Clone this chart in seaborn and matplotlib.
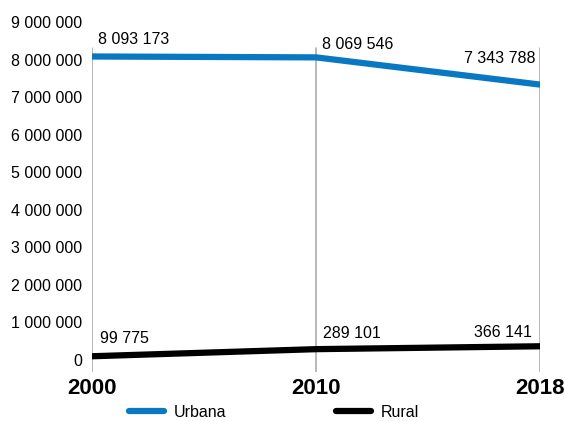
import matplotlib
matplotlib.use("Agg")
import matplotlib.pyplot as plt
from matplotlib.lines import Line2D
import seaborn as sns
import pandas as pd

# dados
anos = ["2000", "2010", "2018"]
urbana = [8093173, 8069546, 7343788]
rural = [99775, 289101, 366141]
series = ["Urbana", "Rural"]
yticks = [0, 1000000, 2000000, 3000000, 4000000, 5000000, 6000000, 7000000, 8000000, 9000000]

sns.set_theme(style="white")
plt.rcParams["font.family"] = ["Liberation Sans", "DejaVu Sans"]
plt.rcParams["text.color"] = "black"
plt.rcParams["xtick.color"] = "black"
plt.rcParams["ytick.color"] = "black"

AZUL = "#0878c2"
PRETO = "#000000"


def fmt(v):
    return f"{v:,}".replace(",", " ")


df = pd.DataFrame({
    "ano": anos * 2,
    "valor": urbana + rural,
    "serie": [series[0]] * 3 + [series[1]] * 3,
})

fig = plt.figure(figsize=(5.65, 4.21), dpi=100)
ax = fig.add_axes([0.163, 0.1164, 0.793, 0.8302])

# linhas verticais
for i in range(len(anos)):
    ax.axvline(i, ymin=0, ymax=0.927, color="#a6a6a6", lw=1.1, zorder=1)

sns.lineplot(data=df, x="ano", y="valor", hue="serie", sort=False,
             palette={"Urbana": AZUL, "Rural": PRETO},
             linewidth=4.5, ax=ax, legend=False, zorder=3)

ax.set_xlim(0, 2)
ax.set_ylim(-320000, 9000000)
ax.set_yticks(yticks)
ax.set_yticklabels([fmt(v) for v in yticks], fontsize=11.5)
ax.set_xticks(range(len(anos)))
ax.set_xticklabels(anos, fontsize=16, fontweight="bold")
ax.tick_params(axis="y", length=0, pad=7)
ax.tick_params(axis="x", length=0, pad=4)
ax.set_xlabel("")
ax.set_ylabel("")
for s in ax.spines.values():
    s.set_visible(False)

# rótulos (deslocamentos em pontos)
aligns = ["left", "left", "right"]
off_urb = [(4, 12), (4, 9.5), (-3, 19)]
off_rur = [(6, 13), (5, 11.5), (-6, 10)]
for i in range(len(anos)):
    ax.annotate(fmt(urbana[i]), (i, urbana[i]), xytext=off_urb[i],
                textcoords="offset points", ha=aligns[i], va="center", fontsize=11.5)
    ax.annotate(fmt(rural[i]), (i, rural[i]), xytext=off_rur[i],
                textcoords="offset points", ha=aligns[i], va="center", fontsize=11.5)

# legenda
handles = [Line2D([], [], color=AZUL, lw=4.5), Line2D([], [], color=PRETO, lw=4.5)]
fig.legend(handles, series, loc="center", bbox_to_anchor=(0.485, 0.02), ncol=2,
           frameon=False, fontsize=11.5, handlelength=2.2, columnspacing=6.9,
           handletextpad=0.6)

fig.savefig("out.png", dpi=100)
